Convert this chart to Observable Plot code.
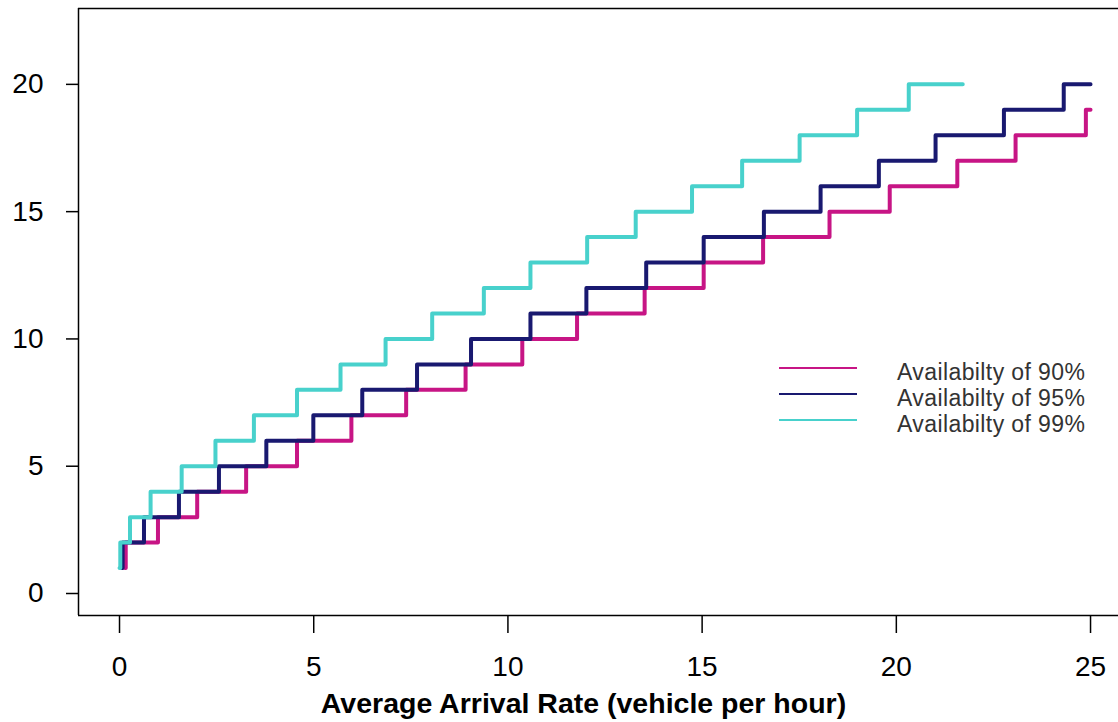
<!DOCTYPE html>
<html>
<head>
<meta charset="utf-8">
<script src="https://cdn.jsdelivr.net/npm/d3@7"></script>
<script src="https://cdn.jsdelivr.net/npm/@observablehq/plot@0.6"></script>
<style>
  body { margin: 0; background: #fff; }
  #wrap { position: relative; width: 1118px; height: 722px; overflow: hidden; }
  .legend { position: absolute; left: 779px; top: 359px; font-family: "Liberation Sans", Arial, sans-serif; font-size: 23px; letter-spacing: 0.4px; color: #333; }
  .row { display: flex; align-items: center; height: 26px; }
  .sw { width: 78px; height: 2px; margin-right: 40px; transform: translateY(-4px); }
</style>
</head>
<body>
<div id="wrap"></div>
<script>
// Series names and colours
const seriesNames = ["Availabilty of 90%", "Availabilty of 95%", "Availabilty of 99%"];
const seriesColors = ["#C71585", "#191970", "#48D1CC"];

// Step positions: arrival rate where each level (number of chargers) starts
const x90 = [0.14, 0.16, 0.99, 2.00, 3.26, 4.57, 5.97, 7.38, 8.91, 10.37, 11.78, 13.52, 15.04, 16.57, 18.28, 19.83, 21.57, 23.07, 24.88, 25.00];
const n90 = [1, 2, 3, 4, 5, 6, 7, 8, 9, 10, 11, 12, 13, 14, 15, 16, 17, 18, 19, 19];

const x95 = [0.06, 0.08, 0.63, 1.53, 2.56, 3.78, 4.99, 6.25, 7.66, 9.05, 10.58, 12.02, 13.56, 15.04, 16.59, 18.05, 19.55, 21.01, 22.77, 24.31, 25.00];
const n95 = [1, 2, 3, 4, 5, 6, 7, 8, 9, 10, 11, 12, 13, 14, 15, 16, 17, 18, 19, 20, 20];

const x99 = [0.00, 0.02, 0.27, 0.80, 1.60, 2.47, 3.46, 4.57, 5.69, 6.85, 8.05, 9.38, 10.58, 12.04, 13.29, 14.74, 16.03, 17.51, 18.99, 20.32, 21.71];
const n99 = [1, 2, 3, 4, 5, 6, 7, 8, 9, 10, 11, 12, 13, 14, 15, 16, 17, 18, 19, 20, 20];

// Axis ticks and labels
const xTicks = [0, 5, 10, 15, 20, 25];
const yTicks = [0, 5, 10, 15, 20];
const xLabel = "Average Arrival Rate (vehicle per hour)";

// Scale domains
const xDomain = [-1.056, 25.72];
const yDomain = [-0.864, 22.98];

const toRows = (xs, ns) => xs.map((x, i) => ({x, n: ns[i]}));
const series = [toRows(x90, n90), toRows(x95, n95), toRows(x99, n99)];

const font = '"Liberation Sans", Arial, sans-serif';

const chart = Plot.plot({
  width: 1118,
  height: 722,
  marginLeft: 78,
  marginRight: 0,
  marginTop: 8,
  marginBottom: 107,
  style: {fontFamily: font, fontSize: "28px", color: "#000", background: "#fff"},
  x: {domain: xDomain},
  y: {domain: yDomain},
  marks: [
    Plot.ruleY(yDomain, {stroke: "#000", strokeWidth: 1.5}),
    Plot.ruleX([xDomain[0]], {stroke: "#000", strokeWidth: 1.5}),
    Plot.axisY(yTicks, {tickSize: 12, tickPadding: 23, strokeWidth: 1.5, fontSize: 28, label: null}),
    Plot.axisX(xTicks, {tickSize: 18, tickPadding: 23, strokeWidth: 1.5, fontSize: 28, label: null}),
    Plot.text([xLabel], {frameAnchor: "bottom", lineAnchor: "middle", dx: -15, dy: 88, fontSize: 28.5, fontWeight: "bold", fill: "#000"}),
    ...series.map((d, i) => Plot.line(d, {
      x: "x", y: "n", curve: "step-after",
      stroke: seriesColors[i], strokeWidth: 4,
      strokeLinecap: "round", strokeLinejoin: "round"
    }))
  ]
});

const wrap = document.getElementById("wrap");
wrap.appendChild(chart);

const legend = document.createElement("div");
legend.className = "legend";
seriesNames.forEach((name, i) => {
  const row = document.createElement("div");
  row.className = "row";
  const sw = document.createElement("div");
  sw.className = "sw";
  sw.style.background = seriesColors[i];
  const label = document.createElement("span");
  label.textContent = name;
  row.appendChild(sw);
  row.appendChild(label);
  legend.appendChild(row);
});
wrap.appendChild(legend);
</script>
</body>
</html>
